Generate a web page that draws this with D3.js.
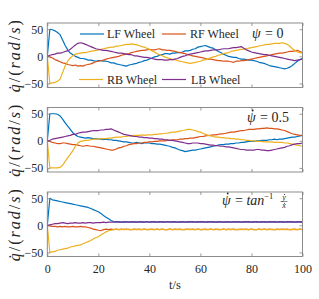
<!DOCTYPE html>
<html><head><meta charset="utf-8">
<script src="https://cdn.jsdelivr.net/npm/d3@7"></script>
<style>body{margin:0;background:#fff} svg{display:block} text{font-family:"Liberation Serif","Times New Roman","DejaVu Serif",serif}</style></head>
<body><svg id="c" width="319" height="299"></svg>
<script>
// sample times (s)
const time = d3.range(0, 101);
const seriesNames = ["LF Wheel", "RF Wheel", "RB Wheel", "LB Wheel"];
const xTicks = [0, 20, 40, 60, 80, 100];
const yTicks = [-50, 0, 50];

// Panel 1: psi = 0
const LF1 = [0,50,49,47,44,40,30,20,12,6,3,
0,-2,-4,-4,-5,-7,-7,-8,-9,-8,
-8,-9,-9,-10,-12,-12,-14,-15,-16,-17,
-18,-16,-15,-14,-13,-11,-10,-8,-7,-5,
-3,-1,0,2,3,5,5,4,6,6,
7,7,8,10,10,11,13,14,17,18,
19,20,18,16,15,12,9,7,4,2,
0,-1,-2,-2,-4,-5,-5,-6,-7,-7,
-8,-9,-11,-12,-13,-15,-17,-18,-19,-20,
-21,-22,-23,-22,-20,-17,-13,-9,-6,-4];
const RF1 = [0,-1,-3,-6,-8,-10,-12,-13,-15,-16,-17,
-16,-18,-17,-18,-16,-15,-14,-12,-10,-9,
-8,-7,-5,-4,-3,-2,-1,0,2,3,
4,5,7,8,9,10,11,11,12,13,
12,12,13,14,12,12,11,11,10,9,
8,7,6,5,3,2,1,0,-1,-2,
-3,-4,-5,-5,-6,-7,-8,-8,-9,-9,
-9,-10,-11,-9,-9,-8,-8,-7,-6,-5,
-4,-3,-2,-1,0,1,2,3,4,5,
6,6,7,8,9,9,10,11,9,7];
const RB1 = [0,-50,-49,-48,-46,-42,-30,-18,-9,-3,1,
4,5,6,7,7,8,9,10,11,12,
13,14,15,16,17,17,19,19,20,21,
22,22,23,22,21,20,18,17,15,13,
10,8,5,3,1,-1,-3,-4,-6,-6,
-8,-9,-10,-11,-12,-13,-12,-11,-10,-9,
-7,-6,-4,-3,-1,0,2,3,5,6,
7,9,10,11,12,13,13,14,15,16,
17,18,19,20,21,22,22,23,24,24,
24,25,24,22,19,14,11,8,7,6];
const LB1 = [0,2,3,4,6,6,7,9,10,13,17,
21,24,25,24,22,20,18,16,14,13,
12,11,11,10,9,8,7,6,6,5,
4,3,3,1,1,0,-1,-2,-2,-3,
-4,-5,-6,-6,-6,-7,-7,-6,-6,-5,
-4,-2,0,1,3,4,5,6,7,8,
9,10,10,11,12,12,12,13,14,14,
14,15,16,16,17,18,15,12,10,8,
7,6,5,4,3,3,2,1,0,-1,
-2,-3,-4,-5,-6,-7,-8,-7,-6,-5];

// Panel 2: psi_dot = 0.5
const LF2 = [0,50,50,50,49,46,40,33,27,21,15,
11,8,7,6,5,6,5,4,4,3,
3,2,3,2,2,1,1,0,-1,-2,
-2,-3,-4,-4,-3,-4,-5,-4,-4,-4,
-5,-5,-6,-6,-7,-8,-9,-10,-12,-13,
-15,-17,-18,-20,-19,-18,-17,-17,-16,-15,
-14,-13,-12,-11,-10,-9,-8,-7,-7,-6,
-6,-5,-5,-4,-4,-3,-3,-2,-1,-1,
-1,0,0,1,1,1,2,2,3,2,
3,3,4,5,6,7,7,8,9,10];
const RF2 = [0,-1,-3,-4,-5,-5,-4,-4,-5,-6,-7,
-7,-8,-9,-10,-9,-9,-10,-10,-11,-12,
-13,-14,-15,-16,-17,-17,-15,-13,-12,-10,
-9,-7,-6,-5,-5,-4,-4,-3,-3,-2,
-2,-1,-1,0,0,0,1,1,2,2,
2,3,3,4,4,5,5,6,7,8,
8,9,10,10,11,11,12,13,13,14,
15,16,16,17,18,19,19,20,21,21,
21,22,22,23,23,24,23,23,22,22,
21,20,19,17,15,13,12,11,10,10];
const RB2 = [0,-50,-50,-50,-50,-49,-45,-38,-31,-25,-18,
-10,-4,-1,0,1,1,2,3,3,3,
4,4,4,5,5,6,7,7,7,8,
8,9,9,10,10,10,11,10,11,11,
11,12,12,13,13,14,14,15,16,16,
17,18,19,20,21,21,20,19,17,16,
14,12,10,9,8,7,7,6,6,5,
5,4,4,3,3,2,2,1,1,0,
0,-1,-1,-1,-2,-2,-2,-2,-3,-3,
-3,-3,-4,-4,-5,-6,-7,-8,-9,-10];
const LB2 = [0,1,3,4,5,6,7,8,9,10,12,
12,14,15,16,16,17,18,19,19,19,
20,20,21,21,22,20,18,16,14,12,
11,10,9,8,8,7,7,6,6,5,
5,4,4,3,3,2,2,1,1,0,
-1,-2,-3,-4,-5,-5,-4,-4,-4,-5,
-5,-6,-7,-8,-8,-9,-9,-10,-10,-11,
-11,-12,-13,-14,-15,-16,-16,-17,-17,-17,
-17,-16,-16,-17,-17,-18,-18,-17,-16,-15,
-14,-13,-12,-10,-9,-7,-6,-5,-5,-4];

// Panel 3: psi_dot = atan(y_dot/x_dot)
const LF3 = [0,50,47,46,45,44,43,42,41,40,39,
38,37,36,35,34,33,31,29,27,25,
22,18,15,12,9,7,6,7,6,6,
7,6,6,7,6,6,7,6,7,6,
6,7,6,6,7,6,7,6,6,7,
6,6,7,6,6,7,6,6,7,6,
7,6,6,7,6,6,7,6,6,7,
6,6,7,6,7,6,6,7,6,6,
7,6,6,7,6,6,7,6,7,6,
6,7,6,6,7,6,6,7,6,6];
const RF3 = [0,-1,-2,-2,-3,-2,-3,-2,-3,-3,-2,
-3,-3,-2,-3,-3,-4,-5,-7,-8,-9,
-10,-8,-7,-8,-7,-8,-7,-8,-7,-8,
-7,-8,-8,-7,-8,-7,-8,-7,-8,-8,
-7,-8,-7,-8,-7,-8,-8,-7,-8,-7,
-8,-7,-8,-8,-7,-8,-7,-8,-7,-8,
-8,-7,-8,-7,-8,-7,-8,-8,-7,-8,
-7,-8,-7,-8,-8,-7,-8,-7,-8,-7,
-8,-8,-7,-8,-7,-8,-7,-8,-8,-7,
-8,-7,-8,-7,-8,-8,-7,-8,-7,-8];
const RB3 = [0,-50,-49,-48,-46,-45,-44,-43,-42,-40,-39,
-38,-37,-36,-34,-32,-30,-28,-25,-23,-21,
-18,-15,-12,-10,-9,-8,-7,-8,-8,-7,
-8,-7,-8,-8,-7,-8,-8,-7,-8,-7,
-8,-8,-7,-8,-7,-8,-8,-7,-8,-8,
-7,-8,-8,-7,-8,-7,-8,-8,-7,-8,
-7,-8,-8,-7,-8,-8,-7,-8,-7,-8,
-8,-7,-8,-8,-7,-8,-7,-8,-8,-7,
-8,-8,-7,-8,-7,-8,-8,-7,-8,-8,
-7,-8,-7,-8,-8,-7,-8,-8,-7,-8];
const LB3 = [0,1,2,3,3,4,5,4,3,4,4,
5,4,4,5,4,5,5,4,5,5,
5,6,5,6,6,6,7,6,6,7,
6,6,7,6,6,7,6,6,7,6,
7,6,6,7,6,6,7,6,7,6,
6,7,6,6,7,6,7,6,6,7,
6,6,7,6,7,6,6,7,6,6,
7,6,6,7,6,6,7,6,7,6,
6,7,6,6,7,6,6,7,6,6,
7,6,6,7,6,7,6,6,7,6];

const colors = ["#0072BD", "#D95319", "#EDB120", "#7E2F8E"];
const panels = [[LF1, RF1, RB1, LB1], [LF2, RF2, RB2, LB2], [LF3, RF3, RB3, LB3]];

const svg = d3.select("#c");
const TXT = "#262626";
const left = 47.3, right = 302.5;
const tops = [23, 107.5, 192], ph = 64.5;
const x = d3.scaleLinear().domain([0, 100]).range([left, right]);

panels.forEach((series, i) => {
  const top = tops[i];
  const y = d3.scaleLinear().domain([-57.5, 61.5]).range([top + ph, top]);
  const g = svg.append("g");
  const cid = "clip" + i;
  g.append("clipPath").attr("id", cid).append("rect")
    .attr("x", left).attr("y", top).attr("width", right - left).attr("height", ph);
  const line = d3.line().x((d, k) => x(time[k])).y(d => y(d));
  const lg = g.append("g").attr("clip-path", `url(#${cid})`);
  series.forEach((s, j) => {
    lg.append("path").attr("d", line(s)).attr("fill", "none")
      .attr("stroke", colors[j]).attr("stroke-width", 1.2).attr("stroke-linejoin", "round");
  });
  const styleAxis = a => {
    a.attr("font-family", null);
    a.select(".domain").remove();
    a.selectAll("line").attr("stroke", "#808080").attr("stroke-width", 0.8);
    a.selectAll("text").style("font-size", "12px").attr("fill", TXT);
  };
  g.append("g").attr("transform", `translate(${left},0)`)
    .call(d3.axisLeft(y).tickValues(yTicks).tickSize(-3).tickPadding(4).tickFormat(d3.format("d")))
    .call(styleAxis);
  g.append("g").attr("transform", `translate(${right},0)`)
    .call(d3.axisRight(y).tickValues(yTicks).tickSize(-3).tickFormat(""))
    .call(styleAxis);
  g.append("g").attr("transform", `translate(0,${top + ph})`)
    .call(d3.axisBottom(x).tickValues(xTicks).tickSize(-3).tickPadding(8)
      .tickFormat(i === 2 ? d3.format("d") : ""))
    .call(styleAxis);
  g.append("g").attr("transform", `translate(0,${top})`)
    .call(d3.axisTop(x).tickValues(xTicks).tickSize(-3).tickFormat(""))
    .call(styleAxis);
  g.append("rect").attr("x", left).attr("y", top).attr("width", right - left).attr("height", ph)
    .attr("fill", "none").attr("stroke", "#808080").attr("stroke-width", 0.9);

  // y label
  const yl = svg.append("text")
    .attr("transform", `translate(20,${top + ph / 2}) rotate(-90)`)
    .attr("text-anchor", "middle").style("font-size", "16px")
    .style("letter-spacing", "2px").attr("fill", TXT);
  yl.append("tspan").style("font-style", "italic").text("q\u0307");
  yl.append("tspan").text("/(");
  yl.append("tspan").style("font-style", "italic").text("rad");
  yl.append("tspan").text("/");
  yl.append("tspan").style("font-style", "italic").text("s");
  yl.append("tspan").text(")");
});

// x label
svg.append("text").attr("x", 175).attr("y", 289).attr("text-anchor", "middle")
  .style("font-size", "12.5px").attr("fill", TXT).text("t/s");

// legend
const legPos = [[80, 34, 107], [162, 34, 190], [79, 79.5, 107], [162, 79.5, 191]];
seriesNames.forEach((n, j) => {
  const [lx, ly, tx] = legPos[j];
  svg.append("line").attr("x1", lx).attr("x2", lx + 24).attr("y1", ly).attr("y2", ly)
    .attr("stroke", colors[j]).attr("stroke-width", 1.2);
  svg.append("text").attr("x", tx).attr("y", ly + 4)
    .style("font-size", "12px").attr("fill", TXT).text(n);
});

// annotations: psi (optionally with dot) followed by rest
function psiLabel(xp, yp, dot) {
  const p = svg.append("text").attr("x", xp).attr("y", yp).style("font-size", "14px")
    .style("font-style", "italic").attr("fill", TXT).text("\u03C8");
  const bb = p.node().getBBox();
  if (dot) svg.append("circle").attr("cx", bb.x + bb.width / 2 + 1.2).attr("cy", yp - 11.5)
    .attr("r", 0.9).attr("fill", TXT);
  return bb.x + bb.width;
}
let e = psiLabel(252, 37.5, false);
svg.append("text").attr("x", e + 4).attr("y", 37.5).style("font-size", "14px").attr("fill", TXT).text("= 0");

e = psiLabel(247, 122, true);
svg.append("text").attr("x", e + 4).attr("y", 122).style("font-size", "14px").attr("fill", TXT).text("= 0.5");

e = psiLabel(222, 205, true);
const a3 = svg.append("text").attr("x", e + 4).attr("y", 205).style("font-size", "14px").attr("fill", TXT);
a3.append("tspan").text("= ");
a3.append("tspan").style("font-style", "italic").text("tan");
a3.append("tspan").attr("dy", -6).style("font-size", "8.5px").text("\u22121");
const fx = 284;
svg.append("text").attr("x", fx).attr("y", 200).attr("text-anchor", "middle")
  .style("font-size", "8px").style("font-style", "italic").attr("fill", TXT).text("y");
svg.append("circle").attr("cx", fx + 0.5).attr("cy", 194.5).attr("r", 0.5).attr("fill", TXT);
svg.append("line").attr("x1", fx - 3.5).attr("x2", fx + 3.5).attr("y1", 201.5).attr("y2", 201.5)
  .attr("stroke", TXT).attr("stroke-width", 0.5);
svg.append("text").attr("x", fx).attr("y", 207.5).attr("text-anchor", "middle")
  .style("font-size", "8px").style("font-style", "italic").attr("fill", TXT).text("x");
svg.append("circle").attr("cx", fx + 0.5).attr("cy", 203.3).attr("r", 0.5).attr("fill", TXT);
</script></body></html>
